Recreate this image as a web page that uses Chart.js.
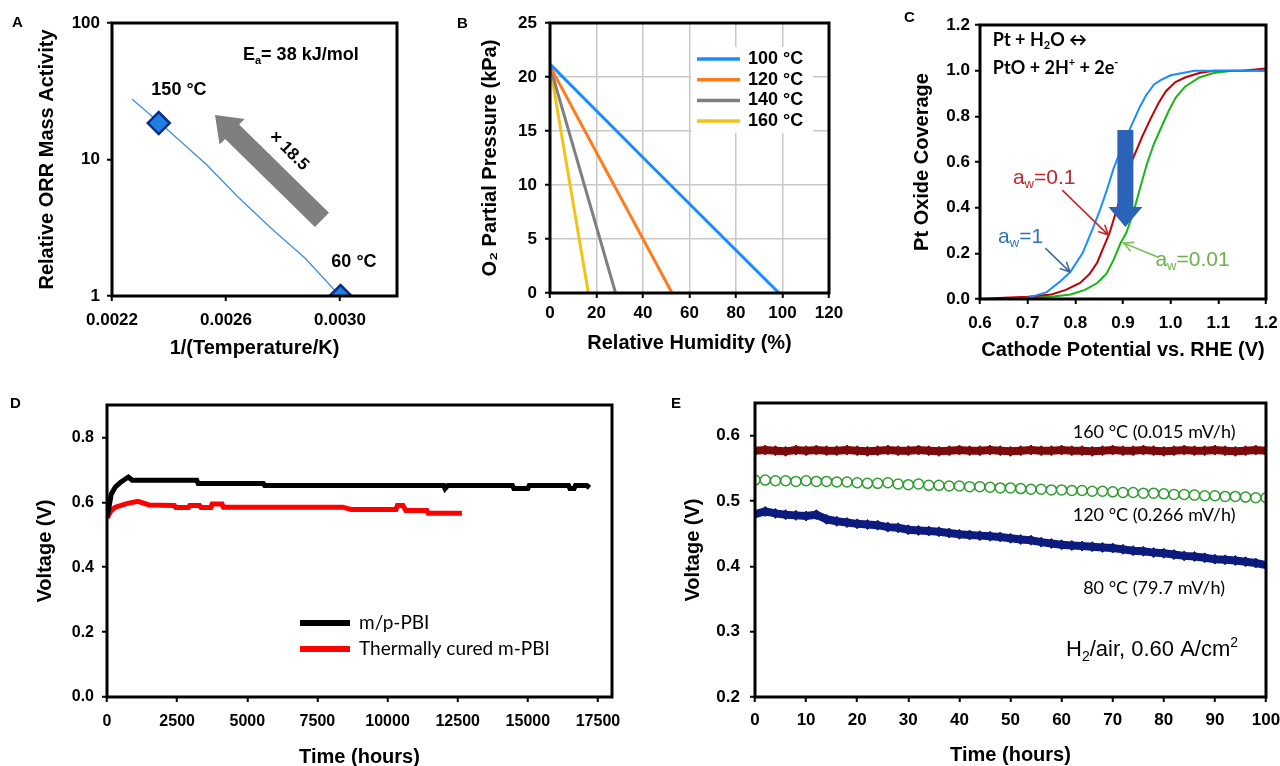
<!DOCTYPE html>
<html>
<head>
<meta charset="utf-8">
<script src="https://cdn.jsdelivr.net/npm/chart.js@4.4.1/dist/chart.umd.min.js"></script>
<style>
  body { margin: 0; background: #fff; width: 1280px; height: 766px; overflow: hidden; position: relative; }
  canvas { position: absolute; }
  .lbl { position: absolute; font: bold 15px 'Liberation Sans', Arial, sans-serif; color: #000; }
</style>
</head>
<body>
<canvas id="A" width="440" height="365" style="left:0;top:0"></canvas>
<canvas id="B" width="440" height="365" style="left:440px;top:0"></canvas>
<canvas id="C" width="400" height="365" style="left:880px;top:0"></canvas>
<canvas id="D" width="640" height="401" style="left:0;top:365px"></canvas>
<canvas id="E" width="640" height="401" style="left:640px;top:365px"></canvas>
<div class="lbl" style="left:12px;top:13px">A</div>
<div class="lbl" style="left:457px;top:14px">B</div>
<div class="lbl" style="left:904px;top:8px">C</div>
<div class="lbl" style="left:10px;top:394px">D</div>
<div class="lbl" style="left:671px;top:394px">E</div>
<script>
// ---- A: Arrhenius plot ----
const aLineInvT = [0.00227, 0.002404, 0.002533, 0.002642, 0.002765, 0.002877, 0.0030];
const aLineAct = [27.7, 15.9, 9.12, 5.31, 3.04, 1.90, 1.0];
const aPtInvT = [0.002364, 0.003002];
const aPtAct = [18.5, 1.0];
const aTicksX = [0.0022, 0.0026, 0.0030];
const aTicksY = [1, 10, 100];

// ---- B: O2 partial pressure vs RH ----
const bLabels = ['100 °C', '120 °C', '140 °C', '160 °C'];
const bColors = ['#1a8cff', '#ff7b1c', '#7f7f7f', '#f2c316'];
const bRH = [[0, 41.6, 98.5], [0, 52.5], [0, 28.2], [0, 16.5]];
const bO2 = [[21.2, 12.2, 0], [21.0, 0], [21.0, 0], [21.0, 0]];

// ---- C: Pt oxide coverage ----
const cV1 = [0.60, 0.65, 0.70, 0.74, 0.77, 0.79, 0.815, 0.835, 0.85, 0.865, 0.88, 0.893, 0.905, 0.92, 0.935, 0.948, 0.965, 0.98, 1.00, 1.05, 1.10, 1.15, 1.20];
const cCov1 = [0.0, 0.0, 0.005, 0.03, 0.08, 0.12, 0.20, 0.30, 0.38, 0.47, 0.57, 0.64, 0.70, 0.77, 0.84, 0.89, 0.94, 0.96, 0.98, 1.0, 1.0, 1.0, 1.0];
const cV01 = [0.60, 0.65, 0.70, 0.75, 0.78, 0.81, 0.83, 0.846, 0.86, 0.872, 0.885, 0.90, 0.92, 0.94, 0.958, 0.975, 0.99, 1.01, 1.03, 1.06, 1.09, 1.15, 1.20];
const cCov01 = [0.0, 0.005, 0.01, 0.02, 0.04, 0.07, 0.11, 0.16, 0.23, 0.29, 0.38, 0.48, 0.61, 0.71, 0.79, 0.86, 0.91, 0.95, 0.97, 0.99, 1.0, 1.0, 1.01];
const cV001 = [0.60, 0.65, 0.70, 0.75, 0.79, 0.82, 0.846, 0.865, 0.88, 0.895, 0.907, 0.922, 0.935, 0.95, 0.965, 0.98, 0.995, 1.01, 1.03, 1.06, 1.09, 1.13, 1.16, 1.20];
const cCov001 = [0.0, 0.0, 0.005, 0.01, 0.02, 0.04, 0.07, 0.11, 0.17, 0.245, 0.29, 0.38, 0.48, 0.59, 0.68, 0.75, 0.82, 0.88, 0.93, 0.97, 0.99, 1.0, 1.0, 1.0];

// ---- D: long-term voltage ----
const dLabels = ['m/p-PBI', 'Thermally cured m-PBI'];
const dTicksX = [0, 2500, 5000, 7500, 10000, 12500, 15000, 17500];
const dHoursMP = [0, 60, 150, 300, 500, 760, 900, 3200, 3250, 5570, 5620, 12000, 12050, 12150, 14450, 14500, 15000, 15050, 16450, 16500, 16650, 16700, 17100, 17200];
const dVoltMP = [0.595, 0.580, 0.625, 0.648, 0.663, 0.678, 0.668, 0.668, 0.658, 0.658, 0.652, 0.652, 0.642, 0.652, 0.652, 0.643, 0.643, 0.652, 0.652, 0.643, 0.643, 0.652, 0.652, 0.645];
const dHoursTC = [0, 150, 300, 700, 1100, 1500, 2400, 2450, 2900, 2950, 3300, 3350, 3700, 3750, 4100, 4150, 8400, 8700, 10300, 10350, 10550, 10650, 11400, 11450, 12650];
const dVoltTC = [0.552, 0.575, 0.585, 0.596, 0.603, 0.592, 0.590, 0.584, 0.584, 0.590, 0.590, 0.584, 0.584, 0.595, 0.595, 0.585, 0.585, 0.578, 0.578, 0.590, 0.590, 0.575, 0.575, 0.566, 0.566];

// ---- E: 100 h test at three temperatures ----
const eHours = [0, 2, 4, 6, 8, 10, 12, 14, 16, 18, 20, 22, 24, 26, 28, 30, 32, 34, 36, 38, 40, 42, 44, 46, 48, 50,
  52, 54, 56, 58, 60, 62, 64, 66, 68, 70, 72, 74, 76, 78, 80, 82, 84, 86, 88, 90, 92, 94, 96, 98, 100];
const eV160 = [0.577, 0.578, 0.577, 0.576, 0.578, 0.577, 0.578, 0.577, 0.577, 0.578,
  0.577, 0.576, 0.577, 0.578, 0.577, 0.577, 0.578, 0.577, 0.576, 0.577,
  0.578, 0.577, 0.577, 0.578, 0.577, 0.576, 0.577, 0.578, 0.577, 0.577,
  0.578, 0.577, 0.577, 0.576, 0.577, 0.578, 0.577, 0.577, 0.578, 0.577,
  0.576, 0.577, 0.578, 0.577, 0.577, 0.578, 0.577, 0.576, 0.577, 0.578, 0.577];
const eV120 = [0.532, 0.532, 0.531, 0.531, 0.530, 0.531, 0.530, 0.530, 0.529, 0.529,
  0.528, 0.527, 0.527, 0.528, 0.526, 0.525, 0.526, 0.524, 0.524, 0.523,
  0.523, 0.522, 0.522, 0.521, 0.520, 0.520, 0.519, 0.518, 0.518, 0.517,
  0.517, 0.516, 0.516, 0.515, 0.515, 0.514, 0.513, 0.513, 0.512, 0.512,
  0.511, 0.510, 0.510, 0.509, 0.508, 0.508, 0.507, 0.507, 0.506, 0.505, 0.505];
const eV80 = [0.480, 0.484, 0.481, 0.479, 0.478, 0.477, 0.479, 0.472, 0.469, 0.467,
  0.465, 0.464, 0.463, 0.460, 0.459, 0.456, 0.455, 0.454, 0.453, 0.451,
  0.449, 0.448, 0.447, 0.446, 0.445, 0.443, 0.441, 0.440, 0.437, 0.435,
  0.433, 0.432, 0.431, 0.430, 0.429, 0.428, 0.426, 0.424, 0.423, 0.421,
  0.420, 0.418, 0.416, 0.415, 0.413, 0.411, 0.410, 0.409, 0.407, 0.405, 0.402];

const FAM = "'Liberation Sans', Arial, sans-serif";
const HUM = "Lato, 'Open Sans', sans-serif";

Chart.defaults.animation = false;
Chart.defaults.events = [];
Chart.defaults.plugins.legend.display = false;
Chart.defaults.plugins.tooltip.enabled = false;

const pts = (xs, ys) => xs.map((x, i) => ({ x, y: ys[i] }));

// --- drawing helpers ---
function rich(ctx, parts, x, y, o) {
  const size = o.size, fam = o.family || FAM, wt = o.weight || 'normal';
  const fontFor = m => `${wt} ${m ? Math.round(size * 0.62) : size}px ${fam}`;
  let w = 0;
  parts.forEach(([t, m]) => { ctx.font = fontFor(m); w += ctx.measureText(t).width; });
  let cx = o.align === 'center' ? x - w / 2 : x;
  ctx.fillStyle = o.color || '#000';
  ctx.textBaseline = 'middle';
  ctx.textAlign = 'left';
  parts.forEach(([t, m]) => {
    ctx.font = fontFor(m);
    const dy = m === 'sub' ? size * 0.32 : (m === 'sup' ? -size * 0.32 : 0);
    ctx.fillText(t, cx, y + dy);
    cx += ctx.measureText(t).width;
  });
}

function blockArrow(ctx, x1, y1, x2, y2, sw, hw, hl, color) {
  const ang = Math.atan2(y2 - y1, x2 - x1), len = Math.hypot(x2 - x1, y2 - y1);
  ctx.save();
  ctx.translate(x1, y1); ctx.rotate(ang);
  ctx.beginPath();
  ctx.moveTo(0, -sw / 2); ctx.lineTo(len - hl, -sw / 2); ctx.lineTo(len - hl, -hw / 2);
  ctx.lineTo(len, 0); ctx.lineTo(len - hl, hw / 2); ctx.lineTo(len - hl, sw / 2); ctx.lineTo(0, sw / 2);
  ctx.closePath();
  ctx.fillStyle = color; ctx.fill();
  ctx.restore();
}

function lineArrow(ctx, x1, y1, x2, y2, color) {
  const ang = Math.atan2(y2 - y1, x2 - x1), h = 11;
  ctx.save();
  ctx.strokeStyle = color; ctx.lineWidth = 1.6;
  ctx.beginPath(); ctx.moveTo(x1, y1); ctx.lineTo(x2, y2);
  ctx.moveTo(x2 - h * Math.cos(ang - 0.45), y2 - h * Math.sin(ang - 0.45));
  ctx.lineTo(x2, y2);
  ctx.lineTo(x2 - h * Math.cos(ang + 0.45), y2 - h * Math.sin(ang + 0.45));
  ctx.stroke();
  ctx.restore();
}

function px(chart, x, y) {
  return [chart.scales.x.getPixelForValue(x), chart.scales.y.getPixelForValue(y)];
}

// --- annotations per panel ---
const painters = {
  A(chart, ctx) {
    const [tx, ty] = px(chart, 0.0029368, 3.61), [hx, hy] = px(chart, 0.0025614, 21.2);
    blockArrow(ctx, tx, ty, hx, hy, 20, 36, 24, '#7f7f7f');
    const [lx, ly] = px(chart, 0.0028211, 11.54);
    ctx.save(); ctx.translate(lx, ly); ctx.rotate(Math.PI / 4);
    ctx.font = `bold 17px ${FAM}`; ctx.fillStyle = '#000'; ctx.textAlign = 'center'; ctx.textBaseline = 'middle';
    ctx.fillText('× 18.5', 0, 0); ctx.restore();
    let [x, y] = px(chart, 0.0026596, 58.3);
    rich(ctx, [['E'], ['a', 'sub'], ['= 38 kJ/mol']], x, y, { size: 18, weight: 'bold' });
    [x, y] = px(chart, 0.002435, 32.3);
    rich(ctx, [['150 °C']], x, y, { size: 18, weight: 'bold', align: 'center' });
    [x, y] = px(chart, 0.003049, 1.775);
    rich(ctx, [['60 °C']], x, y, { size: 18, weight: 'bold', align: 'center' });
  },
  B(chart, ctx) {
    const a = chart.chartArea;
    ctx.fillStyle = '#fff';
    ctx.fillRect(a.right - 138, a.top + 24, 122, 86);
    chart.data.datasets.forEach((ds, i) => {
      const y = a.top + 36 + i * 20.7;
      ctx.strokeStyle = ds.borderColor; ctx.lineWidth = 3.5;
      ctx.beginPath(); ctx.moveTo(a.right - 132, y); ctx.lineTo(a.right - 89, y); ctx.stroke();
      rich(ctx, [[ds.label]], a.right - 81, y, { size: 18, weight: 'bold' });
    });
  },
  C(chart, ctx) {
    let [x, y] = px(chart, 0.627, 1.134);
    rich(ctx, [['Pt + H'], ['2', 'sub'], ['O ↔']], x, y, { size: 18, weight: 'bold', family: HUM });
    [x, y] = px(chart, 0.627, 1.012);
    rich(ctx, [['PtO + 2H'], ['+', 'sup'], [' + 2e'], ['-', 'sup']], x, y, { size: 18, weight: 'bold', family: HUM });
    const [sx, sy] = px(chart, 0.905, 0.74), [ex, ey] = px(chart, 0.905, 0.315);
    blockArrow(ctx, sx, sy, ex, ey, 16, 34, 20, '#2a63b8');
    let p = px(chart, 0.7726, 0.477), q = px(chart, 0.8695, 0.280);
    lineArrow(ctx, p[0], p[1], q[0], q[1], '#c0272d');
    p = px(chart, 0.737, 0.223); q = px(chart, 0.789, 0.118);
    lineArrow(ctx, p[0], p[1], q[0], q[1], '#3b6e9c');
    p = px(chart, 0.9726, 0.184); q = px(chart, 0.901, 0.245);
    lineArrow(ctx, p[0], p[1], q[0], q[1], '#7cbf5a');
    [x, y] = px(chart, 0.669, 0.53);
    rich(ctx, [['a'], ['w', 'sub'], ['=0.1']], x, y, { size: 21, color: '#c0272d' });
    [x, y] = px(chart, 0.638, 0.272);
    rich(ctx, [['a'], ['w', 'sub'], ['=1']], x, y, { size: 21, color: '#2e75b6' });
    [x, y] = px(chart, 0.968, 0.171);
    rich(ctx, [['a'], ['w', 'sub'], ['=0.01']], x, y, { size: 21, color: '#6ab04c' });
  },
  D(chart, ctx) {
    const a = chart.chartArea;
    chart.data.datasets.forEach((ds, i) => {
      const y = a.top + 218 + i * 26;
      ctx.strokeStyle = ds.borderColor; ctx.lineWidth = 6;
      ctx.beginPath(); ctx.moveTo(a.left + 193, y); ctx.lineTo(a.left + 243, y); ctx.stroke();
      rich(ctx, [[ds.label]], a.left + 252, y, { size: 19, family: HUM });
    });
  },
  E(chart, ctx) {
    let [x, y] = px(chart, 78.1, 0.606);
    rich(ctx, [['160 °C (0.015 mV/h)']], x, y, { size: 18, family: HUM, align: 'center' });
    [x, y] = px(chart, 78.1, 0.479);
    rich(ctx, [['120 °C (0.266 mV/h)']], x, y, { size: 18, family: HUM, align: 'center' });
    [x, y] = px(chart, 78.1, 0.367);
    rich(ctx, [['80 °C (79.7 mV/h)']], x, y, { size: 18, family: HUM, align: 'center' });
    [x, y] = px(chart, 77.7, 0.272);
    rich(ctx, [['H'], ['2', 'sub'], ['/air, 0.60 A/cm'], ['2', 'sup']], x, y, { size: 22, align: 'center' });
  }
};

Chart.register({
  id: 'extras',
  afterDatasetsDraw(chart) {
    const ctx = chart.ctx, a = chart.chartArea;
    ctx.save();
    ctx.strokeStyle = '#000'; ctx.lineWidth = 3;
    ctx.strokeRect(a.left, a.top, a.right - a.left, a.bottom - a.top);
    ctx.restore();
    const p = painters[chart.canvas.id];
    if (p) { ctx.save(); p(chart, ctx); ctx.restore(); }
  }
});

function axis(o) {
  return {
    type: o.type || 'linear', min: o.min, max: o.max,
    afterFit: s => {
      if (o.w) s.width = o.w;
      if (o.h) s.height = o.h;
      s.paddingLeft = 0; s.paddingRight = 0; s.paddingTop = 0; s.paddingBottom = 0;
    },
    afterBuildTicks: o.at ? s => { s.ticks = o.at.map(v => ({ value: v })); } : undefined,
    border: { display: false },
    grid: { drawOnChartArea: !!o.grid, color: o.grid || '#000', lineWidth: 1.5, tickColor: '#000', tickWidth: 2, tickLength: 5 },
    ticks: {
      stepSize: o.step, includeBounds: false, padding: o.pad, color: '#000', maxRotation: 0, autoSkip: false,
      font: { family: FAM, size: o.size, weight: 'bold' }, callback: o.fmt
    },
    title: { display: true, text: o.title, color: '#000', font: { family: FAM, size: 20, weight: 'bold' }, padding: o.tpad }
  };
}

function make(id, datasets, x, y, pad) {
  return new Chart(document.getElementById(id), {
    type: 'line',
    data: { datasets },
    options: {
      responsive: false, devicePixelRatio: 1,
      layout: { padding: { top: pad.top, right: pad.right, bottom: 0, left: 0 } },
      scales: { x, y }
    }
  });
}

// A
make('A', [
  { data: pts(aPtInvT, aPtAct), showLine: false, pointStyle: 'rectRot', pointRadius: 11,
    backgroundColor: '#1f80e0', borderColor: '#0b2a8c', borderWidth: 2.5 },
  { data: pts(aLineInvT, aLineAct), borderColor: '#3d8fe0', borderWidth: 1.3, pointRadius: 0 }
],
  axis({ min: 0.0022, max: 0.0032, at: aTicksX, h: 69, pad: 9, size: 17, fmt: v => v.toFixed(4),
         title: '1/(Temperature/K)', tpad: { top: 0, bottom: 5 } }),
  axis({ type: 'logarithmic', min: 1, max: 100, at: aTicksY, w: 112, pad: 7, size: 17, fmt: v => String(v),
         title: 'Relative ORR Mass Activity', tpad: { top: 35, bottom: 0 } }),
  { top: 23, right: 43 });

// B
make('B', bLabels.map((label, i) => ({
  label, data: pts(bRH[i], bO2[i]), borderColor: bColors[i], backgroundColor: bColors[i], borderWidth: 3, pointRadius: 0
})),
  axis({ min: 0, max: 120, step: 20, h: 72, pad: 5, size: 17, grid: '#c8c8c8',
         title: 'Relative Humidity (%)', tpad: { top: 0, bottom: 10 } }),
  axis({ min: 0, max: 25, step: 5, w: 110, pad: 8, size: 17, grid: '#c8c8c8',
         title: 'O₂ Partial Pressure (kPa)', tpad: { top: 38, bottom: 0 } }),
  { top: 23, right: 51 });

// C
make('C', [
  { label: 'aw=1', data: pts(cV1, cCov1), borderColor: '#1a8cff', borderWidth: 2, pointRadius: 0 },
  { label: 'aw=0.1', data: pts(cV01, cCov01), borderColor: '#c00000', borderWidth: 2, pointRadius: 0 },
  { label: 'aw=0.01', data: pts(cV001, cCov001), borderColor: '#18b418', borderWidth: 2, pointRadius: 0 }
],
  axis({ min: 0.6, max: 1.2, step: 0.1, h: 66, pad: 9, size: 17, fmt: v => v.toFixed(1),
         title: 'Cathode Potential vs. RHE (V)', tpad: { top: 0, bottom: 3 } }),
  axis({ min: 0, max: 1.2, step: 0.2, w: 100, pad: 5, size: 17, fmt: v => v.toFixed(1),
         title: 'Pt Oxide Coverage', tpad: { top: 30, bottom: 0 } }),
  { top: 25, right: 14 });

// D
make('D', [
  { label: dLabels[0], data: pts(dHoursMP, dVoltMP), borderColor: '#000', borderWidth: 5, pointRadius: 0 },
  { label: dLabels[1], data: pts(dHoursTC, dVoltTC), borderColor: '#ff0000', borderWidth: 5, pointRadius: 0 }
],
  axis({ min: 0, max: 18000, at: dTicksX, h: 69, pad: 10, size: 16, fmt: v => String(v),
         title: 'Time (hours)', tpad: { top: 0, bottom: -3 } }),
  axis({ min: 0, max: 0.9, step: 0.2, w: 107, pad: 8, size: 16, fmt: v => v.toFixed(1),
         title: 'Voltage (V)', tpad: { top: 33, bottom: 0 } }),
  { top: 40, right: 28 });

// E
make('E', [
  { label: '160 °C', data: pts(eHours, eV160), borderColor: '#7d0a0a', backgroundColor: '#7d0a0a',
    borderWidth: 8, pointStyle: 'rectRot', pointRadius: 5, pointBorderWidth: 1 },
  { label: '120 °C', data: pts(eHours, eV120), showLine: false, borderColor: '#2e9b2e', backgroundColor: 'rgba(255,255,255,0)',
    borderWidth: 1.5, pointStyle: 'circle', pointRadius: 5 },
  { label: '80 °C', data: pts(eHours, eV80), borderColor: '#0d1b7e', backgroundColor: '#0d1b7e',
    borderWidth: 8, pointStyle: 'rectRot', pointRadius: 5, pointBorderWidth: 1 }
],
  axis({ min: 0, max: 100, step: 10, h: 69, pad: 8, size: 17,
         title: 'Time (hours)', tpad: { top: 0, bottom: -1 } }),
  axis({ min: 0.2, max: 0.65, step: 0.1, w: 115, pad: 10, size: 17, fmt: v => v.toFixed(1),
         title: 'Voltage (V)', tpad: { top: 41, bottom: 0 } }),
  { top: 38, right: 14 });
</script>
</body>
</html>
